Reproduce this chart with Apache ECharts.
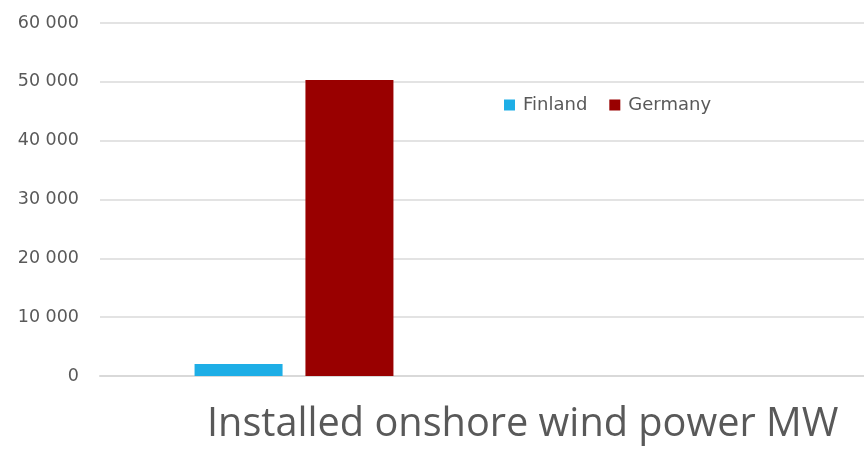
<!DOCTYPE html>
<html>
<head>
<meta charset="utf-8">
<script src="https://cdn.jsdelivr.net/npm/echarts@6/dist/echarts.min.js"></script>
<style>
  html, body { margin: 0; padding: 0; background: #fff; }
  #chart { width: 864px; height: 449px; }
</style>
</head>
<body>
<div id="chart"></div>
<script>
// Installed onshore wind capacity, MW
const categories = ['', ' '];
const finland = [2040, null];
const germany = [50300, null];
const yTicks = [0, 10000, 20000, 30000, 40000, 50000, 60000];

const chart = echarts.init(document.getElementById('chart'), null, { renderer: 'canvas' });

function spaced(v) {
  return String(v).replace(/\B(?=(\d{3})+(?!\d))/g, ' ');
}

chart.setOption({
  animation: false,
  title: {
    text: 'Installed onshore wind power MW',
    left: 202,
    top: 400,
    textStyle: { fontSize: 39.7, fontWeight: 'normal', color: '#595959', fontFamily: 'Open Sans' }
  },
  legend: {
    data: ['Finland', 'Germany'],
    left: 499,
    top: 91,
    itemWidth: 11,
    itemHeight: 11,
    itemGap: 22,
    icon: 'rect',
    textStyle: { fontSize: 18, color: '#595959', fontFamily: 'DejaVu Sans', padding: [0, 0, 0, 3] }
  },
  grid: {
    left: 100, width: 776, top: 23, bottom: 73,
    containLabel: false,
    outerBoundsMode: 'none'
  },
  xAxis: {
    type: 'category',
    data: categories,
    axisLine: { lineStyle: { color: '#d9d9d9', width: 2 } },
    axisTick: { show: false },
    axisLabel: { show: false }
  },
  yAxis: {
    type: 'value',
    min: yTicks[0],
    max: yTicks[yTicks.length - 1],
    interval: 10000,
    axisLine: { show: false },
    axisTick: { show: false },
    splitLine: { lineStyle: { color: '#e3e3e3', width: 2 } },
    axisLabel: {
      fontSize: 17.5,
      color: '#595959',
      fontFamily: 'DejaVu Sans',
      margin: 21,
      formatter: spaced
    }
  },
  series: [
    {
      name: 'Finland',
      type: 'bar',
      data: finland,
      barWidth: 88,
      barGap: '26%',
      itemStyle: { color: '#1eaee6' }
    },
    {
      name: 'Germany',
      type: 'bar',
      data: germany,
      barWidth: 88,
      itemStyle: { color: '#990000' }
    }
  ]
});
</script>
</body>
</html>
